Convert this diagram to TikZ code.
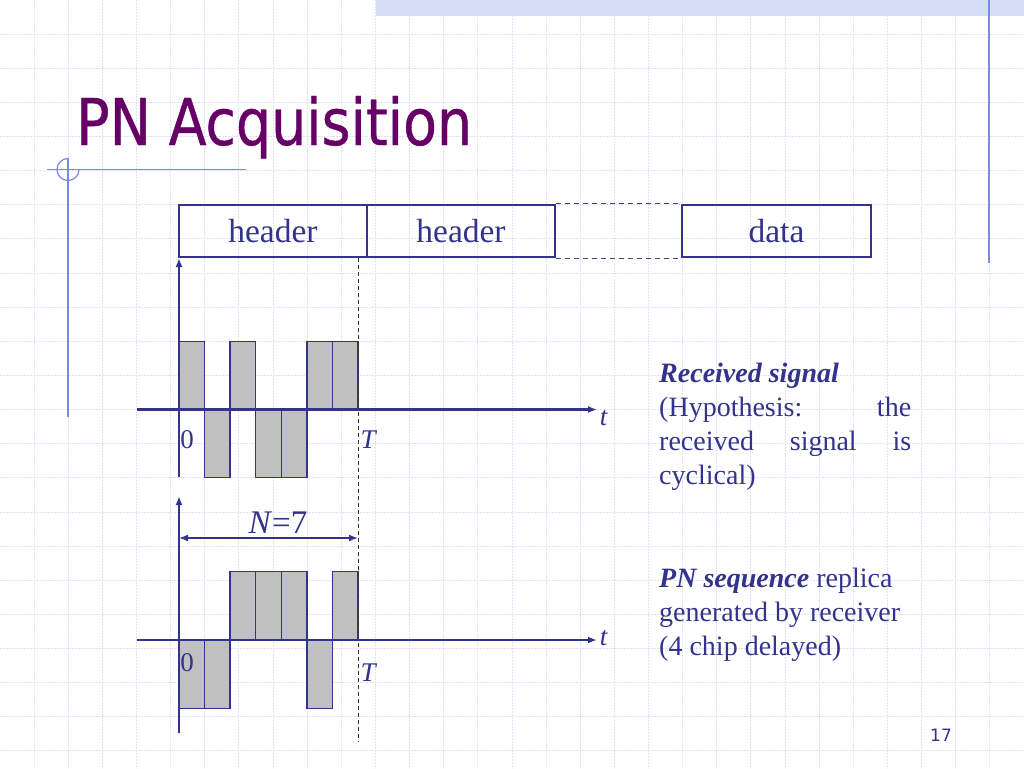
\documentclass[tikz,border=0pt]{standalone}
\usepackage{fontspec}
\setmainfont{Liberation Serif}
\newfontfamily\titlefont[FakeBold=0.6]{DejaVu Sans Condensed}
\newfontfamily\pagefont{DejaVu Sans}
\usetikzlibrary{arrows.meta}
\definecolor{navy}{RGB}{51,51,140}
\definecolor{titlepurple}{RGB}{102,0,102}
\definecolor{gridcol}{RGB}{222,226,244}
\definecolor{bandcol}{RGB}{214,222,246}
\definecolor{decocol}{RGB}{120,140,225}
\definecolor{chipgray}{RGB}{192,192,192}
\tikzset{
  gridline/.style={draw=gridcol, line width=1pt, dash pattern=on 2pt off 1pt},
  deco/.style={draw=decocol, line width=1.2pt},
  hbox/.style={draw=navy, line width=2.5pt, minimum width=188pt, minimum height=52pt, inner sep=0pt, text=navy, font=\fontsize{33.5}{38}\selectfont},
  dashconn/.style={draw=navy!80!gray, line width=1.4pt, dash pattern=on 5pt off 4pt},
  axisline/.style={draw=navy, line width=2.2pt},
  tip/.style={-{Latex[length=9pt,width=7pt]}},
  chipbox/.style={fill=chipgray, draw=navy, line width=1.4pt},
  tline/.style={draw=black!80, line width=1pt, dash pattern=on 4pt off 3pt},
  lbl/.style={text=navy, inner sep=0pt, font=\fontsize{27}{30}\selectfont},
  rtext/.style={text=navy, inner sep=0pt, anchor=base west, font=\fontsize{28}{34}\selectfont}
}
\begin{document}
\begin{tikzpicture}[x=1pt,y=-1pt]
\useasboundingbox (0,0) rectangle (1024,768);
\fill[white] (0,0) rectangle (1024,768);
% background grid
\foreach \i in {1,...,29} \draw[gridline] ({\i*34.1333},0) -- ({\i*34.1333},768);
\foreach \j in {1,...,22} \draw[gridline] (0,{\j*34.1333}) -- (1024,{\j*34.1333});
% top band and decoration
\fill[bandcol] (376,0) rectangle (1024,16);
\draw[deco] (989,0) -- (989,263);
\draw[deco] (47,169.5) -- (246,169.5);
\draw[deco] (68,158) -- (68,417);
\draw[deco] (79,169.5) arc[start angle=0, end angle=270, radius=11];
% title
\node[anchor=base west, inner sep=0pt, text=titlepurple, font=\titlefont\fontsize{64.5}{70}\selectfont] (title) at (76,145) {\scalebox{0.955}[1]{PN Acquisition}};
% frame boxes
\node[hbox] (h1) at (273,231) {header};
\node[hbox] (h2) at (461,231) {header};
\node[hbox, minimum width=189pt] (d) at (776.5,231) {data};
\draw[dashconn] (h2.north east) -- (d.north west);
\draw[dashconn] (h2.south east) -- (d.south west);
% coordinates
\coordinate (y1b) at (179,477);
\coordinate (y1t) at (179,258);
\coordinate (x1l) at (137,409.5);
\coordinate (x1r) at (597,409.5);
\coordinate (y2b) at (179,733);
\coordinate (y2t) at (179,496);
\coordinate (x2l) at (137,640);
\coordinate (x2r) at (597,640);
\coordinate (Ttop) at (358,258);
\coordinate (Tbot) at (358,742);
\coordinate (na) at (179,538);
\coordinate (nb) at (358,538);
% chips received
\foreach \s [count=\k from 0] in {1,-1,1,-1,-1,1,1}
  \filldraw[chipbox] ({179+\k*25.571},409.5) rectangle ++(25.571,{-68*(\s)});
% chips replica
\foreach \s [count=\k from 0] in {-1,-1,1,1,1,-1,1}
  \filldraw[chipbox] ({179+\k*25.571},640) rectangle ++(25.571,{-68.5*(\s)});
% T line
\draw[tline] (Ttop) -- (Tbot);
% axes
\draw[axisline, tip] (y1b) -- (y1t);
\draw[axisline, tip] (x1l) -- (x1r);
\draw[axisline, tip] (y2b) -- (y2t);
\draw[axisline, tip] (x2l) -- (x2r);
\draw[draw=navy, line width=1.6pt, {Latex[length=9pt,width=7pt]}-{Latex[length=9pt,width=7pt]}] (na) -- (nb);
% labels
\node[lbl] (z1) at (187,440) {0};
\node[lbl] (T1) at (369,440) {\textit{T}};
\node[lbl] (t1) at (604,418) {\textit{t}};
\node[lbl] (z2) at (187,663) {0};
\node[lbl] (T2) at (369,673) {\textit{T}};
\node[lbl] (t2) at (604,638) {\textit{t}};
\node[lbl, font=\fontsize{33}{36}\selectfont] (nlab) at (278,523) {\textit{N}=7};
% right text
\node[rtext] (r1) at (659,382) {\textbf{\textit{Received signal}}};
\node[rtext] (r2) at (659,416) {\makebox[252pt][l]{(Hypothesis:\hfill the}};
\node[rtext] (r3) at (659,450) {\makebox[252pt][l]{received\hfill signal\hfill is}};
\node[rtext] (r4) at (659,484) {cyclical)};
\node[rtext] (p1) at (659,587) {\textbf{\textit{PN sequence}} replica};
\node[rtext] (p2) at (659,621) {generated by receiver};
\node[rtext] (p3) at (659,655) {(4 chip delayed)};
% page number
\node[text=navy, inner sep=0pt, font=\pagefont\fontsize{17}{20}\selectfont] (pg) at (941,735) {17};
\end{tikzpicture}
\end{document}
